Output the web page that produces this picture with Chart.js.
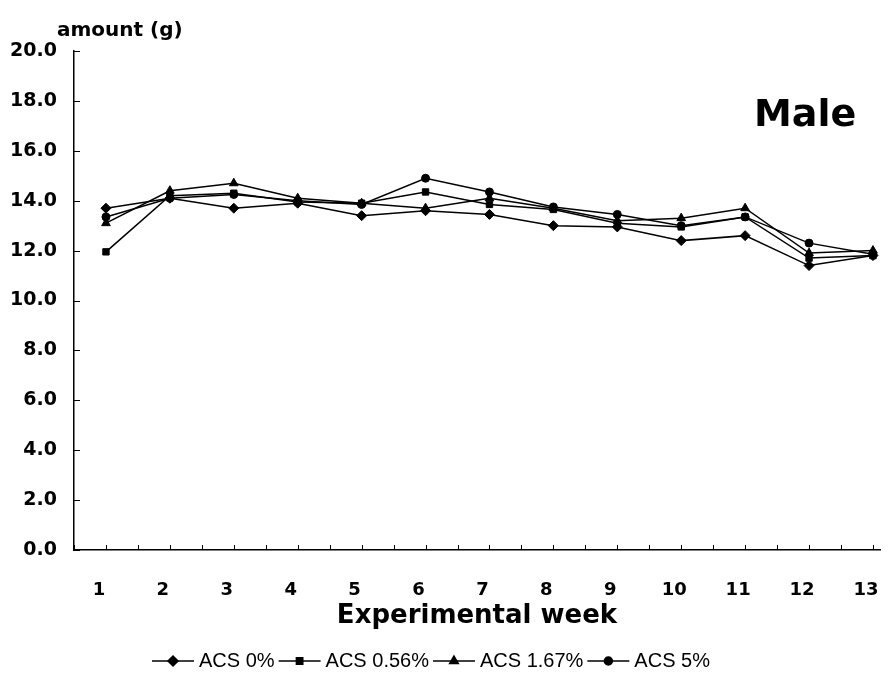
<!DOCTYPE html>
<html>
<head>
<meta charset="utf-8">
<script src="https://cdn.jsdelivr.net/npm/chart.js@4/dist/chart.umd.min.js"></script>
<style>
  body { margin: 0; background: #fff; }
  #wrap { position: relative; width: 895px; height: 675px; }
  .lbl { position: absolute; font-family: "DejaVu Sans", sans-serif; font-weight: bold; color: #000; white-space: nowrap; }
</style>
</head>
<body>
<div id="wrap">
  <canvas id="chart" width="895" height="675"></canvas>
  <div class="lbl" style="left:57px; top:17px; font-size:20px;">amount (g)</div>
  <div class="lbl" style="left:754px; top:91px; font-size:38px;">Male</div>
</div>
<script>
// weeks and series
const weeks = [1, 2, 3, 4, 5, 6, 7, 8, 9, 10, 11, 12, 13];
const acs0   = [13.7, 14.1, 13.7, 13.9, 13.4, 13.6, 13.45, 13.0, 12.95, 12.4, 12.6, 11.4, 11.8];
const acs056 = [11.95, 14.2, 14.3, 13.95, 13.9, 14.35, 13.85, 13.65, 13.1, 12.95, 13.35, 11.7, 11.8];
const acs167 = [13.1, 14.4, 14.7, 14.1, 13.9, 13.7, 14.1, 13.7, 13.2, 13.3, 13.7, 11.9, 12.0];
const acs5   = [13.35, 14.1, 14.25, 14.0, 13.85, 14.9, 14.35, 13.75, 13.45, 13.0, 13.35, 12.3, 11.85];
const seriesNames = ['ACS 0%', 'ACS 0.56%', 'ACS 1.67%', 'ACS 5%'];
const markers = ['rectRot', 'rect', 'triangle', 'circle'];
const markerSize = { rectRot: 5, rect: 4.5, triangle: 5, circle: 4 };

function makeSet(name, vals, marker) {
  return {
    label: name,
    data: weeks.map((w, i) => ({ x: w, y: vals[i] })),
    borderColor: '#000',
    backgroundColor: '#000',
    borderWidth: 1.5,
    pointStyle: marker,
    pointRadius: markerSize[marker],
    pointBorderWidth: 1,
    tension: 0
  };
}

// inward tick marks, like the original
const tickMarks = {
  id: 'tickMarks',
  afterDraw(chart) {
    const ctx = chart.ctx;
    const xs = chart.scales.x, ys = chart.scales.y;
    const area = chart.chartArea;
    ctx.save();
    ctx.strokeStyle = '#000';
    ctx.lineWidth = 1;
    xs.ticks.forEach(t => {
      const px = Math.round(xs.getPixelForValue(t.value)) + 0.5;
      ctx.beginPath();
      ctx.moveTo(px, area.bottom);
      ctx.lineTo(px, area.bottom - 5);
      ctx.stroke();
    });
    ys.ticks.forEach(t => {
      const py = Math.round(ys.getPixelForValue(t.value)) + 0.5;
      ctx.beginPath();
      ctx.moveTo(area.left, py);
      ctx.lineTo(area.left + 6, py);
      ctx.stroke();
    });
    ctx.restore();
  }
};

// legend: line with marker in the middle, then the name
const lineLegend = {
  id: 'lineLegend',
  afterDraw(chart) {
    const ctx = chart.ctx;
    const y = 661;
    let x = 152;
    ctx.save();
    ctx.font = '20px "Liberation Sans", Arial, sans-serif';
    ctx.textBaseline = 'middle';
    ctx.fillStyle = '#000';
    ctx.strokeStyle = '#000';
    chart.data.datasets.forEach((ds, i) => {
      const len = 42;
      ctx.lineWidth = 1.5;
      ctx.beginPath();
      ctx.moveTo(x, y);
      ctx.lineTo(x + len, y);
      ctx.stroke();
      Chart.helpers.drawPoint(ctx, { pointStyle: ds.pointStyle, radius: ds.pointRadius, borderWidth: 1 }, x + len / 2, y);
      ctx.fill();
      x += len + 5;
      ctx.fillText(ds.label, x, y);
      x += ctx.measureText(ds.label).width + 4;
    });
    ctx.restore();
  }
};

new Chart(document.getElementById('chart'), {
  type: 'line',
  data: {
    datasets: [
      makeSet(seriesNames[0], acs0, markers[0]),
      makeSet(seriesNames[1], acs056, markers[1]),
      makeSet(seriesNames[2], acs167, markers[2]),
      makeSet(seriesNames[3], acs5, markers[3])
    ]
  },
  options: {
    responsive: false,
    animation: false,
    layout: { padding: { top: 51, right: 15, bottom: 43, left: 0 } },
    plugins: { legend: { display: false }, tooltip: { enabled: false } },
    scales: {
      x: {
        type: 'linear',
        min: 0.5,
        max: 13.11,
        grid: { display: false, drawTicks: false },
        border: { display: true, color: '#000', width: 1.5 },
        ticks: {
          stepSize: 0.5,
          includeBounds: false,
          autoSkip: false,
          maxRotation: 0,
          padding: 30,
          labelOffset: -7,
          color: '#000',
          font: { family: 'DejaVu Sans', weight: 'bold', size: 18 },
          callback: v => Number.isInteger(v) ? String(v) : ''
        },
        title: {
          display: true,
          text: 'Experimental week',
          color: '#000',
          padding: 0,
          font: { family: 'DejaVu Sans', weight: 'bold', size: 26 }
        },
        afterFit: s => { s.height = 82; s.paddingLeft = 0; s.paddingRight = 0; }
      },
      y: {
        min: 0,
        max: 20,
        grid: { display: false, drawTicks: false },
        border: { display: true, color: '#000', width: 1.5 },
        ticks: {
          stepSize: 2,
          padding: 17,
          color: '#000',
          font: { family: 'DejaVu Sans', weight: 'bold', size: 19 },
          callback: v => v.toFixed(1)
        },
        afterFit: s => { s.width = 74; s.paddingTop = 0; s.paddingBottom = 0; }
      }
    }
  },
  plugins: [tickMarks, lineLegend]
});
</script>
</body>
</html>
